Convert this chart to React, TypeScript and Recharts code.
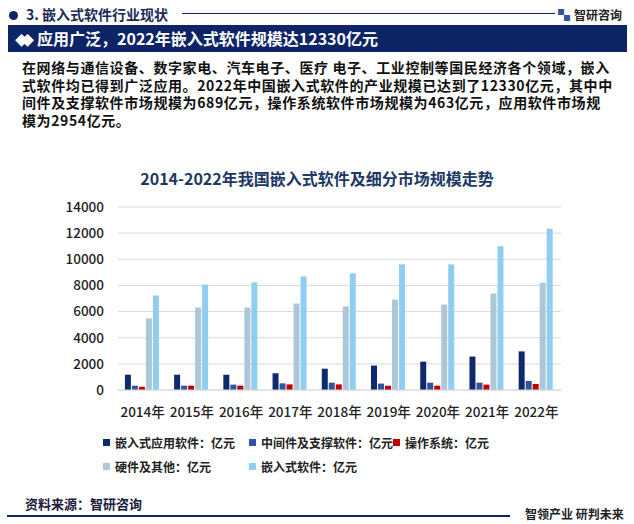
import { BarChart, Bar, XAxis, YAxis, CartesianGrid } from 'recharts';

const YEARS = ['2014年', '2015年', '2016年', '2017年', '2018年', '2019年', '2020年', '2021年', '2022年'];
const APP_SOFTWARE = [1170, 1170, 1170, 1280, 1630, 1870, 2170, 2560, 2954];
const MIDDLEWARE = [330, 330, 410, 510, 560, 490, 560, 560, 689];
const OS_SOFTWARE = [250, 330, 330, 430, 430, 330, 330, 410, 463];
const HARDWARE = [5490, 6310, 6310, 6620, 6390, 6920, 6540, 7380, 8220];
const EMBEDDED = [7230, 8070, 8230, 8690, 8920, 9610, 9610, 10990, 12330];
const Y_TICKS = [0, 2000, 4000, 6000, 8000, 10000, 12000, 14000];

const SERIES = [
  { key: 'app', name: '嵌入式应用软件：亿元', values: APP_SOFTWARE, color: '#0f2a6c' },
  { key: 'mid', name: '中间件及支撑软件：亿元', values: MIDDLEWARE, color: '#2f55a0' },
  { key: 'os', name: '操作系统：亿元', values: OS_SOFTWARE, color: '#c00000' },
  { key: 'hw', name: '硬件及其他：亿元', values: HARDWARE, color: '#adc7d9' },
  { key: 'emb', name: '嵌入式软件：亿元', values: EMBEDDED, color: '#8fcdf1' },
];

const PARAGRAPH = [
  '在网络与通信设备、数字家电、汽车电子、医疗 电子、工业控制等国民经济各个领域，嵌入',
  '式软件均已得到广泛应用。2022年中国嵌入式软件的产业规模已达到了12330亿元，其中中',
  '间件及支撑软件市场规模为689亿元，操作系统软件市场规模为463亿元，应用软件市场规',
  '模为2954亿元。',
];

const FONT = '"Noto Sans CJK SC", "Noto Sans", sans-serif';
const NAVY = '#0d2466';

const chartData = YEARS.map((year, i) => {
  const row: Record<string, string | number> = { year };
  SERIES.forEach((s) => {
    row[s.key] = s.values[i];
  });
  return row;
});

const tickStyle = { fontSize: 13.5, fill: '#222', fontFamily: FONT, fontWeight: 500 };

export default function App() {
  return (
    <div
      style={{
        position: 'fixed',
        left: 0,
        top: 0,
        width: 634,
        height: 524,
        background: '#fff',
        fontFamily: FONT,
        overflow: 'hidden',
      }}
    >
      {/* header */}
      <div style={{ position: 'absolute', left: 9, top: 11, width: 9, height: 9, borderRadius: 5, background: NAVY }} />
      <div style={{ position: 'absolute', left: 26, top: 4, fontSize: 14, fontWeight: 'bold', color: '#1c2a56' }}>
        3. 嵌入式软件行业现状
      </div>
      <div style={{ position: 'absolute', left: 182, top: 13, width: 373, height: 1, background: NAVY }} />
      <div style={{ position: 'absolute', left: 558, top: 6, fontSize: 12, fontWeight: 'bold', color: '#222' }}>
        <span style={{ color: '#2f55a0', marginRight: 4 }}>▚</span>智研咨询
      </div>

      <div
        style={{
          position: 'absolute',
          left: 8,
          top: 25,
          width: 619,
          height: 27,
          background: NAVY,
          color: '#fff',
          fontSize: 16,
          fontWeight: 'bold',
          lineHeight: '27px',
        }}
      >
        <span style={{ marginLeft: 7, marginRight: 10, fontSize: 13, letterSpacing: -7 }}>◆◆</span>
        应用广泛，2022年嵌入式软件规模达12330亿元
      </div>

      <div style={{ position: 'absolute', left: 22, top: 59, fontSize: 14, letterSpacing: 0.6, fontWeight: 'bold', color: '#111', lineHeight: '17.7px' }}>
        {PARAGRAPH.map((line) => (
          <div key={line} style={{ whiteSpace: 'pre' }}>{line}</div>
        ))}
      </div>

      <div
        style={{
          position: 'absolute',
          left: 0,
          width: 634,
          top: 166,
          textAlign: 'center',
          fontSize: 16,
          fontWeight: 'bold',
          color: '#203864',
        }}
      >
        2014-2022年我国嵌入式软件及细分市场规模走势
      </div>

      <div style={{ position: 'absolute', left: 0, top: 190 }}>
        <BarChart
          width={634}
          height={232}
          data={chartData}
          margin={{ top: 17, right: 73, bottom: 2, left: 60 }}
          barCategoryGap="14%"
          barGap={1}
        >
          <CartesianGrid vertical={false} stroke="#d9d9d9" />
          <XAxis
            dataKey="year"
            axisLine={{ stroke: '#d9d9d9' }}
            tickLine={false}
            height={30}
            tickMargin={11}
            interval={0}
            tick={tickStyle}
          />
          <YAxis
            domain={[0, 14000]}
            ticks={Y_TICKS}
            width={58}
            axisLine={false}
            tickLine={false}
            tickMargin={8}
            tick={tickStyle}
          />
          {SERIES.map((s) => (
            <Bar key={s.key} dataKey={s.key} name={s.name} fill={s.color} isAnimationActive={false} />
          ))}
        </BarChart>
      </div>

      {/* legend */}
      <div
        style={{
          position: 'absolute',
          left: 103,
          top: 433,
          display: 'grid',
          gridTemplateColumns: '146px 144px auto',
          rowGap: 6,
          fontSize: 12,
          fontWeight: 'bold',
          color: '#222',
        }}
      >
        {SERIES.map((s) => (
          <div key={s.key} style={{ display: 'flex', alignItems: 'center', height: 18 }}>
            <span style={{ width: 7, height: 7, background: s.color, marginRight: 5, flexShrink: 0 }} />
            {s.name}
          </div>
        ))}
      </div>

      {/* footer */}
      <div style={{ position: 'absolute', left: 25, top: 494, fontSize: 13, fontWeight: 'bold', color: '#1a1a3a' }}>
        资料来源：智研咨询
      </div>
      <div style={{ position: 'absolute', left: 7, top: 515, width: 503, height: 1.5, background: NAVY }} />
      <div style={{ position: 'absolute', left: 525, top: 505, fontSize: 12, fontWeight: 'bold', color: '#222' }}>
        智领产业 研判未来
      </div>
    </div>
  );
}
